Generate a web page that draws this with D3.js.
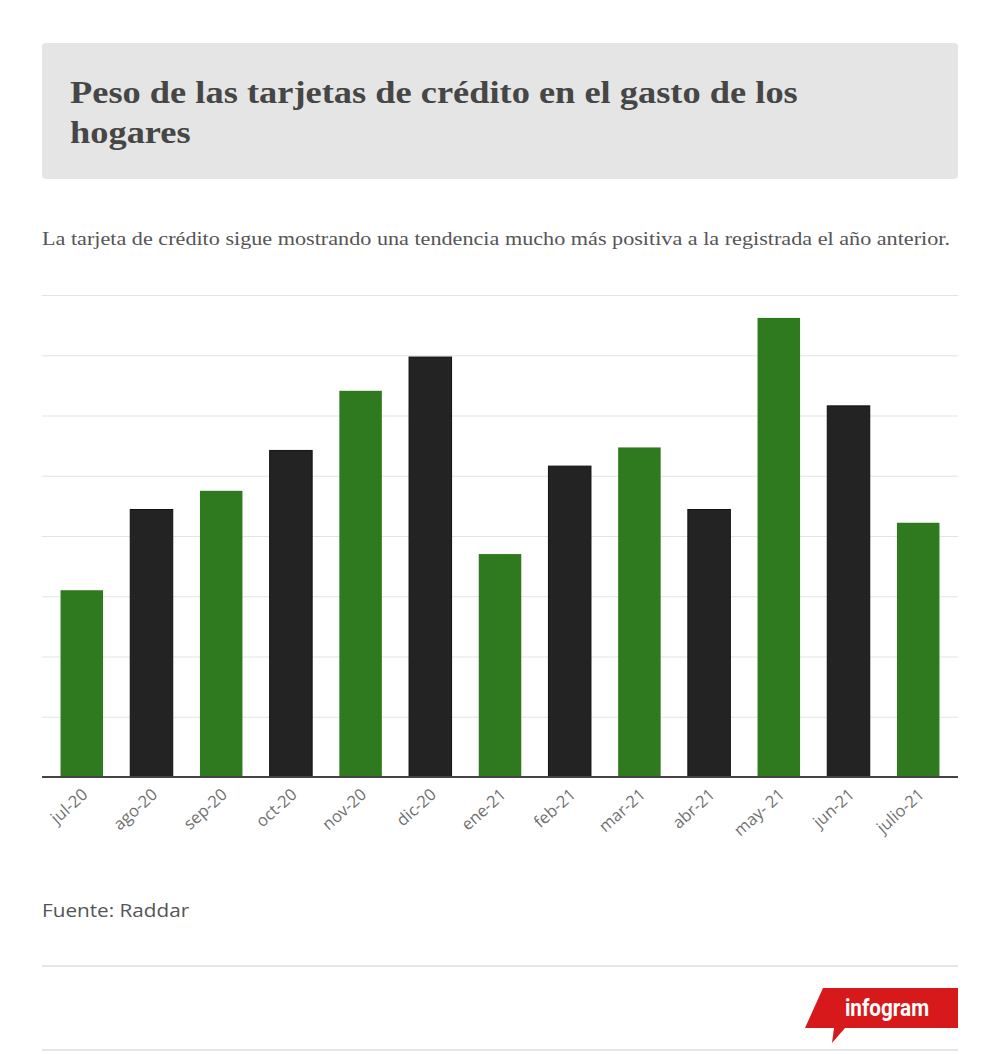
<!DOCTYPE html>
<html>
<head>
<meta charset="utf-8">
<script src="https://cdn.jsdelivr.net/npm/d3@7"></script>
<style>
  body { margin: 0; background: #fff; }
</style>
</head>
<body>
<div id="chart"></div>
<script>
// values, in grid units (no y labels shown)
const months = ['jul-20', 'ago-20', 'sep-20', 'oct-20', 'nov-20', 'dic-20', 'ene-21',
                'feb-21', 'mar-21', 'abr-21', 'may- 21', 'jun-21', 'julio-21'];
const values = [3.10, 4.44, 4.75, 5.42, 6.41, 6.97, 3.70, 5.16, 5.47, 4.44, 7.62, 6.16, 4.22];
const barColors = ['green', 'black', 'green', 'black', 'green', 'black', 'green',
                   'black', 'green', 'black', 'green', 'black', 'green'];
const gridTicks = [0, 1, 2, 3, 4, 5, 6, 7, 8];

const W = 1000, H = 1054;
const SX = 1.12; // the picture is a bit wider than tall text would be
const svg = d3.select('#chart').append('svg').attr('width', W).attr('height', H);

function label(x, y, txt) {
  return svg.append('text')
    .attr('transform', `translate(${x},${y}) scale(${SX},1)`)
    .text(txt);
}

// header box
svg.append('rect')
  .attr('x', 42).attr('y', 43).attr('width', 916).attr('height', 136)
  .attr('rx', 4).attr('fill', '#e5e5e5');

label(70, 103, 'Peso de las tarjetas de crédito en el gasto de los')
  .attr('font-family', '"Liberation Serif", serif')
  .attr('font-weight', 'bold')
  .attr('font-size', '32.5px')
  .attr('fill', '#464646');

label(70, 143, 'hogares')
  .attr('font-family', '"Liberation Serif", serif')
  .attr('font-weight', 'bold')
  .attr('font-size', '32.5px')
  .attr('fill', '#464646');

label(42, 245, 'La tarjeta de crédito sigue mostrando una tendencia mucho más positiva a la registrada el año anterior.')
  .attr('font-family', '"Liberation Serif", serif')
  .attr('font-size', '19.8px')
  .attr('fill', '#555');

// chart
const x = d3.scaleBand()
  .domain(months)
  .range([42, 958])
  .paddingInner(0.39)
  .paddingOuter(0.266);

const y = d3.scaleLinear()
  .domain([0, 8])
  .range([777, 295]);

const grid = svg.append('g')
  .attr('transform', 'translate(42,0)')
  .call(d3.axisLeft(y).tickValues(gridTicks).tickSize(-916).tickFormat(''));
grid.select('.domain').remove();
grid.selectAll('.tick line').attr('stroke', '#e3e3e3').attr('stroke-width', 1.2);

svg.selectAll('rect.bar').data(values).enter().append('rect')
  .attr('class', 'bar')
  .attr('x', (d, i) => x(months[i]))
  .attr('y', d => y(d))
  .attr('width', x.bandwidth())
  .attr('height', d => y(0) - y(d))
  .attr('fill', (d, i) => barColors[i] === 'green' ? '#2f7a1f' : '#232323')
  .attr('stroke', (d, i) => barColors[i] === 'green' ? 'none' : '#111')
  .attr('stroke-width', 1);

const xAxis = svg.append('g')
  .attr('transform', 'translate(0,777)')
  .call(d3.axisBottom(x).tickSize(0).tickPadding(0));
xAxis.select('.domain').remove();
xAxis.selectAll('text')
  .attr('font-family', '"Open Sans", sans-serif')
  .attr('font-size', '16.5px')
  .attr('fill', '#707070')
  .attr('text-anchor', 'end')
  .attr('y', 0)
  .attr('dy', 0)
  .attr('transform', 'translate(7,19) rotate(-42)');

svg.append('line')
  .attr('x1', 42).attr('x2', 958).attr('y1', 777).attr('y2', 777)
  .attr('stroke', '#444').attr('stroke-width', 2);

// footer
label(42, 917, 'Fuente: Raddar')
  .attr('font-family', '"Open Sans", sans-serif')
  .attr('font-size', '18.5px')
  .attr('fill', '#555');

svg.append('line')
  .attr('x1', 42).attr('x2', 958).attr('y1', 966).attr('y2', 966)
  .attr('stroke', '#e6e6e6').attr('stroke-width', 2);
svg.append('line')
  .attr('x1', 42).attr('x2', 958).attr('y1', 1050).attr('y2', 1050)
  .attr('stroke', '#e6e6e6').attr('stroke-width', 2);

// infogram badge
svg.append('path')
  .attr('d', 'M823,988 L958,988 L958,1028 L845,1028 L832,1043 L834,1028 L805,1028 Z')
  .attr('fill', '#d7191c');
svg.append('text')
  .attr('transform', 'translate(887,1016) scale(0.9,1)')
  .attr('text-anchor', 'middle')
  .attr('font-family', '"Roboto", sans-serif')
  .attr('font-weight', 'bold')
  .attr('font-size', '23px')
  .attr('fill', '#fff')
  .text('infogram');
</script>
</body>
</html>
